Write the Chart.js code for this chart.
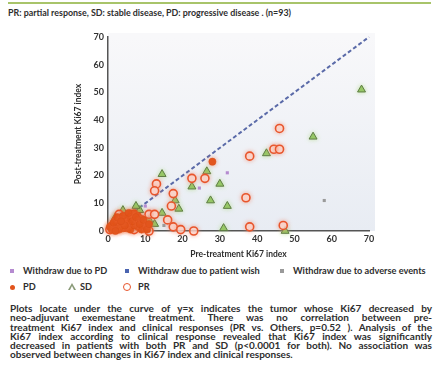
<!DOCTYPE html>
<html><head><meta charset="utf-8">
<script src="https://cdn.jsdelivr.net/npm/chart.js@4.4.1/dist/chart.umd.min.js"></script>
<style>
html,body{margin:0;padding:0;background:#fff;}
body{width:442px;height:381px;position:relative;overflow:hidden;font-family:Lato,'Open Sans',sans-serif;color:#2e2e2e;font-weight:bold;}
#topline{position:absolute;left:8px;top:2px;width:423px;height:2px;background:#a8c46a;}
#hdr{position:absolute;left:8px;top:8px;font-size:8.9px;line-height:10px;white-space:nowrap;}
#wrap{position:absolute;left:0;top:0;width:442px;height:265px;}
.lg{position:absolute;font-size:9.2px;line-height:10px;white-space:nowrap;}
.mk{position:absolute;box-sizing:border-box;}
#para{position:absolute;left:10px;top:304px;width:422px;font-size:10px;line-height:9.3px;}
#para div{white-space:nowrap;}
</style></head>
<body>
<div id="topline"></div>
<div id="hdr">PR: partial response, SD: stable disease, PD: progressive disease . (n=93)</div>
<div id="wrap"><canvas id="c" width="442" height="265"></canvas></div>

<div class="mk" style="left:10px;top:269px;width:4px;height:4px;background:#b58bd0;"></div>
<div class="lg" style="left:23px;top:266px;">Withdraw due to PD</div>
<div class="mk" style="left:125px;top:269px;width:4px;height:4px;background:#4a64b0;"></div>
<div class="lg" style="left:138px;top:266px;">Withdraw due to patient wish</div>
<div class="mk" style="left:280px;top:269px;width:4px;height:4px;background:#9a9a9a;"></div>
<div class="lg" style="left:293px;top:266px;">Withdraw due to adverse events</div>

<div class="mk" style="left:10px;top:285px;width:5px;height:5px;border-radius:50%;background:#e2541c;"></div>
<div class="lg" style="left:23px;top:282px;">PD</div>
<div class="mk" style="left:68px;top:283px;width:0;height:0;border-left:4px solid transparent;border-right:4px solid transparent;border-bottom:7px solid #8a9a78;"></div>
<div class="mk" style="left:69.5px;top:285.5px;width:0;height:0;border-left:2.5px solid transparent;border-right:2.5px solid transparent;border-bottom:4px solid #fff;"></div>
<div class="lg" style="left:80px;top:282px;">SD</div>
<div class="mk" style="left:123px;top:283px;width:8px;height:8px;border-radius:50%;border:1.3px solid #e8552c;"></div>
<div class="lg" style="left:138px;top:282px;">PR</div>

<div id="para">
<div class="j">Plots locate under the curve of y=x indicates the tumor whose Ki67 decreased by</div>
<div class="j">neo-adjuvant exemestane treatment. There was no correlation between pre-</div>
<div class="j">treatment Ki67 index and clinical responses (PR vs. Others, p=0.52 ). Analysis of the</div>
<div class="j">Ki67 index according to clinical response revealed that Ki67 index was significantly</div>
<div class="j">decreased in patients with both PR and SD (p&lt;0.0001 for both). No association was</div>
<div>observed between changes in Ki67 index and clinical responses.</div>
</div>

<script>
// ---- data (pre-treatment Ki67 = x, post-treatment Ki67 = y) ----
const PR_X = [46, 38, 44.5, 46, 26, 37, 38, 47, 22.5, 23, 13, 12.5, 17.5, 17, 11, 16, 17.5, 19.5, 0.5, 11, 6, 12.5, 2, 4, 9, 3, 7];
const PR_Y = [37, 27, 29.5, 29.5, 19, 12, 1.5, 2, 19, 0, 17, 14.5, 13.5, 9, 6, 4, 1.5, 0.5, 0.5, 0, 6, 6, 2, 2.5, 4, 6, 0.5];
const SD_X = [68, 55, 42.5, 26.5, 30, 27.5, 32, 31, 47.5, 22.5, 14.5, 18, 19, 14.5, 11, 12.5, 4, 8.5, 7.5, 2];
const SD_Y = [51, 34, 28, 21.5, 17, 11, 9, 1, 0, 16, 20.5, 11, 8, 6.5, 4, 2.5, 7.5, 7.5, 9, 5];
const PD_X = [28, 1, 2, 3, 4, 5, 6, 7, 8, 9, 3, 5, 6, 7, 8, 9, 1, 2, 4, 6, 10, 8, 5, 3, 7, 0.5, 1.5, 2.5, 4, 5.5, 6.5, 7.5, 8.5, 9.5, 10.5, 11, 4.5, 3.5, 2];
const PD_Y = [25, 0.5, 1.5, 0.5, 3, 1, 2.5, 4, 1.5, 0.5, 2.5, 4.5, 0.5, 6.5, 3.5, 2, 2, 4, 1, 5, 2, 5.5, 2.5, 1, 2, 1.5, 3, 5, 5.5, 6.5, 3.5, 5, 2.5, 4, 0.5, 2.5, 2, 3.5, 0];
const WPD_X = [32, 10, 24.5];
const WPD_Y = [21, 9, 15.5];
const WISH_X = [3];
const WISH_Y = [5];
const ADV_X = [58, 15];
const ADV_Y = [11, 2];
const DIAG_X = [0, 70];
const DIAG_Y = [0, 70];
const AXIS_TICKS = [0, 10, 20, 30, 40, 50, 60, 70];

function pts(xs, ys) { return xs.map((x, i) => ({ x: x, y: ys[i] })); }

// justify paragraph lines to the full width
document.querySelectorAll('#para div.j').forEach(d => {
  const span = document.createElement('span');
  span.textContent = d.textContent;
  d.textContent = '';
  d.appendChild(span);
  const w = span.getBoundingClientRect().width;
  const gaps = (span.textContent.match(/ /g) || []).length;
  if (gaps) d.style.wordSpacing = ((422 - w) / gaps) + 'px';
});

const bgPlugin = {
  id: 'plotbg',
  beforeDraw(chart) {
    const a = chart.chartArea, ctx = chart.ctx;
    const g = ctx.createLinearGradient(0, a.top, 0, a.bottom);
    g.addColorStop(0, '#f8f8fa');
    g.addColorStop(1, '#e8ecf3');
    ctx.save();
    ctx.fillStyle = g;
    ctx.fillRect(a.left, a.top - 4, a.right - a.left + 6, a.bottom - a.top + 4);
    ctx.restore();
  }
};
const glowPlugin = {
  id: 'glow',
  beforeDatasetDraw(chart, args) {
    const ds = chart.data.datasets[args.index];
    if (ds.glow) {
      chart.ctx.save();
      chart.ctx.shadowColor = ds.glow;
      chart.ctx.shadowBlur = 4;
    }
  },
  afterDatasetDraw(chart, args) {
    const ds = chart.data.datasets[args.index];
    if (ds.glow) chart.ctx.restore();
  }
};

const tickFont = { family: 'Lato', size: 9, weight: 'bold' };
const titleFont = { family: 'Lato', size: 8.5, weight: 'bold' };

new Chart(document.getElementById('c'), {
  type: 'scatter',
  data: {
    datasets: [
      { label: 'PD', data: pts(PD_X, PD_Y), pointStyle: 'circle', pointRadius: 3.6,
        backgroundColor: '#e2541c', borderColor: '#d94e18', borderWidth: 0.5, glow: 'rgba(240,110,60,0.6)', clip: 10 },
      { label: 'Withdraw due to PD', data: pts(WPD_X, WPD_Y), pointStyle: 'rect', pointRadius: 2.2,
        backgroundColor: '#b58bd0', borderColor: '#b58bd0', borderWidth: 0, clip: 10 },
      { label: 'Withdraw due to patient wish', data: pts(WISH_X, WISH_Y), pointStyle: 'rect', pointRadius: 2.2,
        backgroundColor: '#4a64b0', borderColor: '#4a64b0', borderWidth: 0, clip: 10 },
      { label: 'Withdraw due to adverse events', data: pts(ADV_X, ADV_Y), pointStyle: 'rect', pointRadius: 2.2,
        backgroundColor: '#9a9a9a', borderColor: '#9a9a9a', borderWidth: 0, clip: 10 },
      { label: 'PR', data: pts(PR_X, PR_Y), pointStyle: 'circle', pointRadius: 4,
        backgroundColor: 'rgba(255,240,236,0.7)', borderColor: '#e8552c', borderWidth: 1.6, glow: 'rgba(245,140,110,0.7)', clip: 10 },
      { label: 'SD', data: pts(SD_X, SD_Y), pointStyle: 'triangle', pointRadius: 4.6,
        backgroundColor: '#93c463', borderColor: '#5e7d44', borderWidth: 1, glow: 'rgba(170,220,120,0.6)', clip: 10 },
      { label: 'y=x', data: pts(DIAG_X, DIAG_Y), showLine: true, pointRadius: 0,
        borderColor: '#5a6aa8', borderWidth: 2, borderDash: [4, 2.5], clip: 10 }
    ]
  },
  options: {
    responsive: false,
    animation: false,
    devicePixelRatio: 1,
    layout: { padding: { left: 62, right: 73, top: 37, bottom: 6 } },
    plugins: { legend: { display: false }, tooltip: { enabled: false } },
    scales: {
      x: {
        type: 'linear', min: 0, max: 70,
        afterBuildTicks: s => { s.ticks = AXIS_TICKS.map(v => ({ value: v })); },
        afterFit: s => { s.height = 28; },
        ticks: { font: tickFont, color: '#333', padding: 3, maxRotation: 0 },
        grid: { display: false, drawTicks: false },
        border: { display: true, color: '#555', width: 1.5 },
        title: { display: true, text: 'Pre-treatment Ki67 index', font: titleFont, color: '#2e2e2e', padding: { top: 3, bottom: 0 } }
      },
      y: {
        type: 'linear', min: 0, max: 70,
        afterBuildTicks: s => { s.ticks = AXIS_TICKS.map(v => ({ value: v })); },
        afterFit: s => { s.width = 46; },
        ticks: { font: tickFont, color: '#333', padding: 4 },
        grid: { display: false, drawTicks: false },
        border: { display: true, color: '#555', width: 1.5 },
        title: { display: true, text: 'Post-treatment Ki67 index', font: titleFont, color: '#2e2e2e', padding: { top: 11, bottom: 0 } }
      }
    }
  },
  plugins: [bgPlugin, glowPlugin]
});
</script>
</body></html>
